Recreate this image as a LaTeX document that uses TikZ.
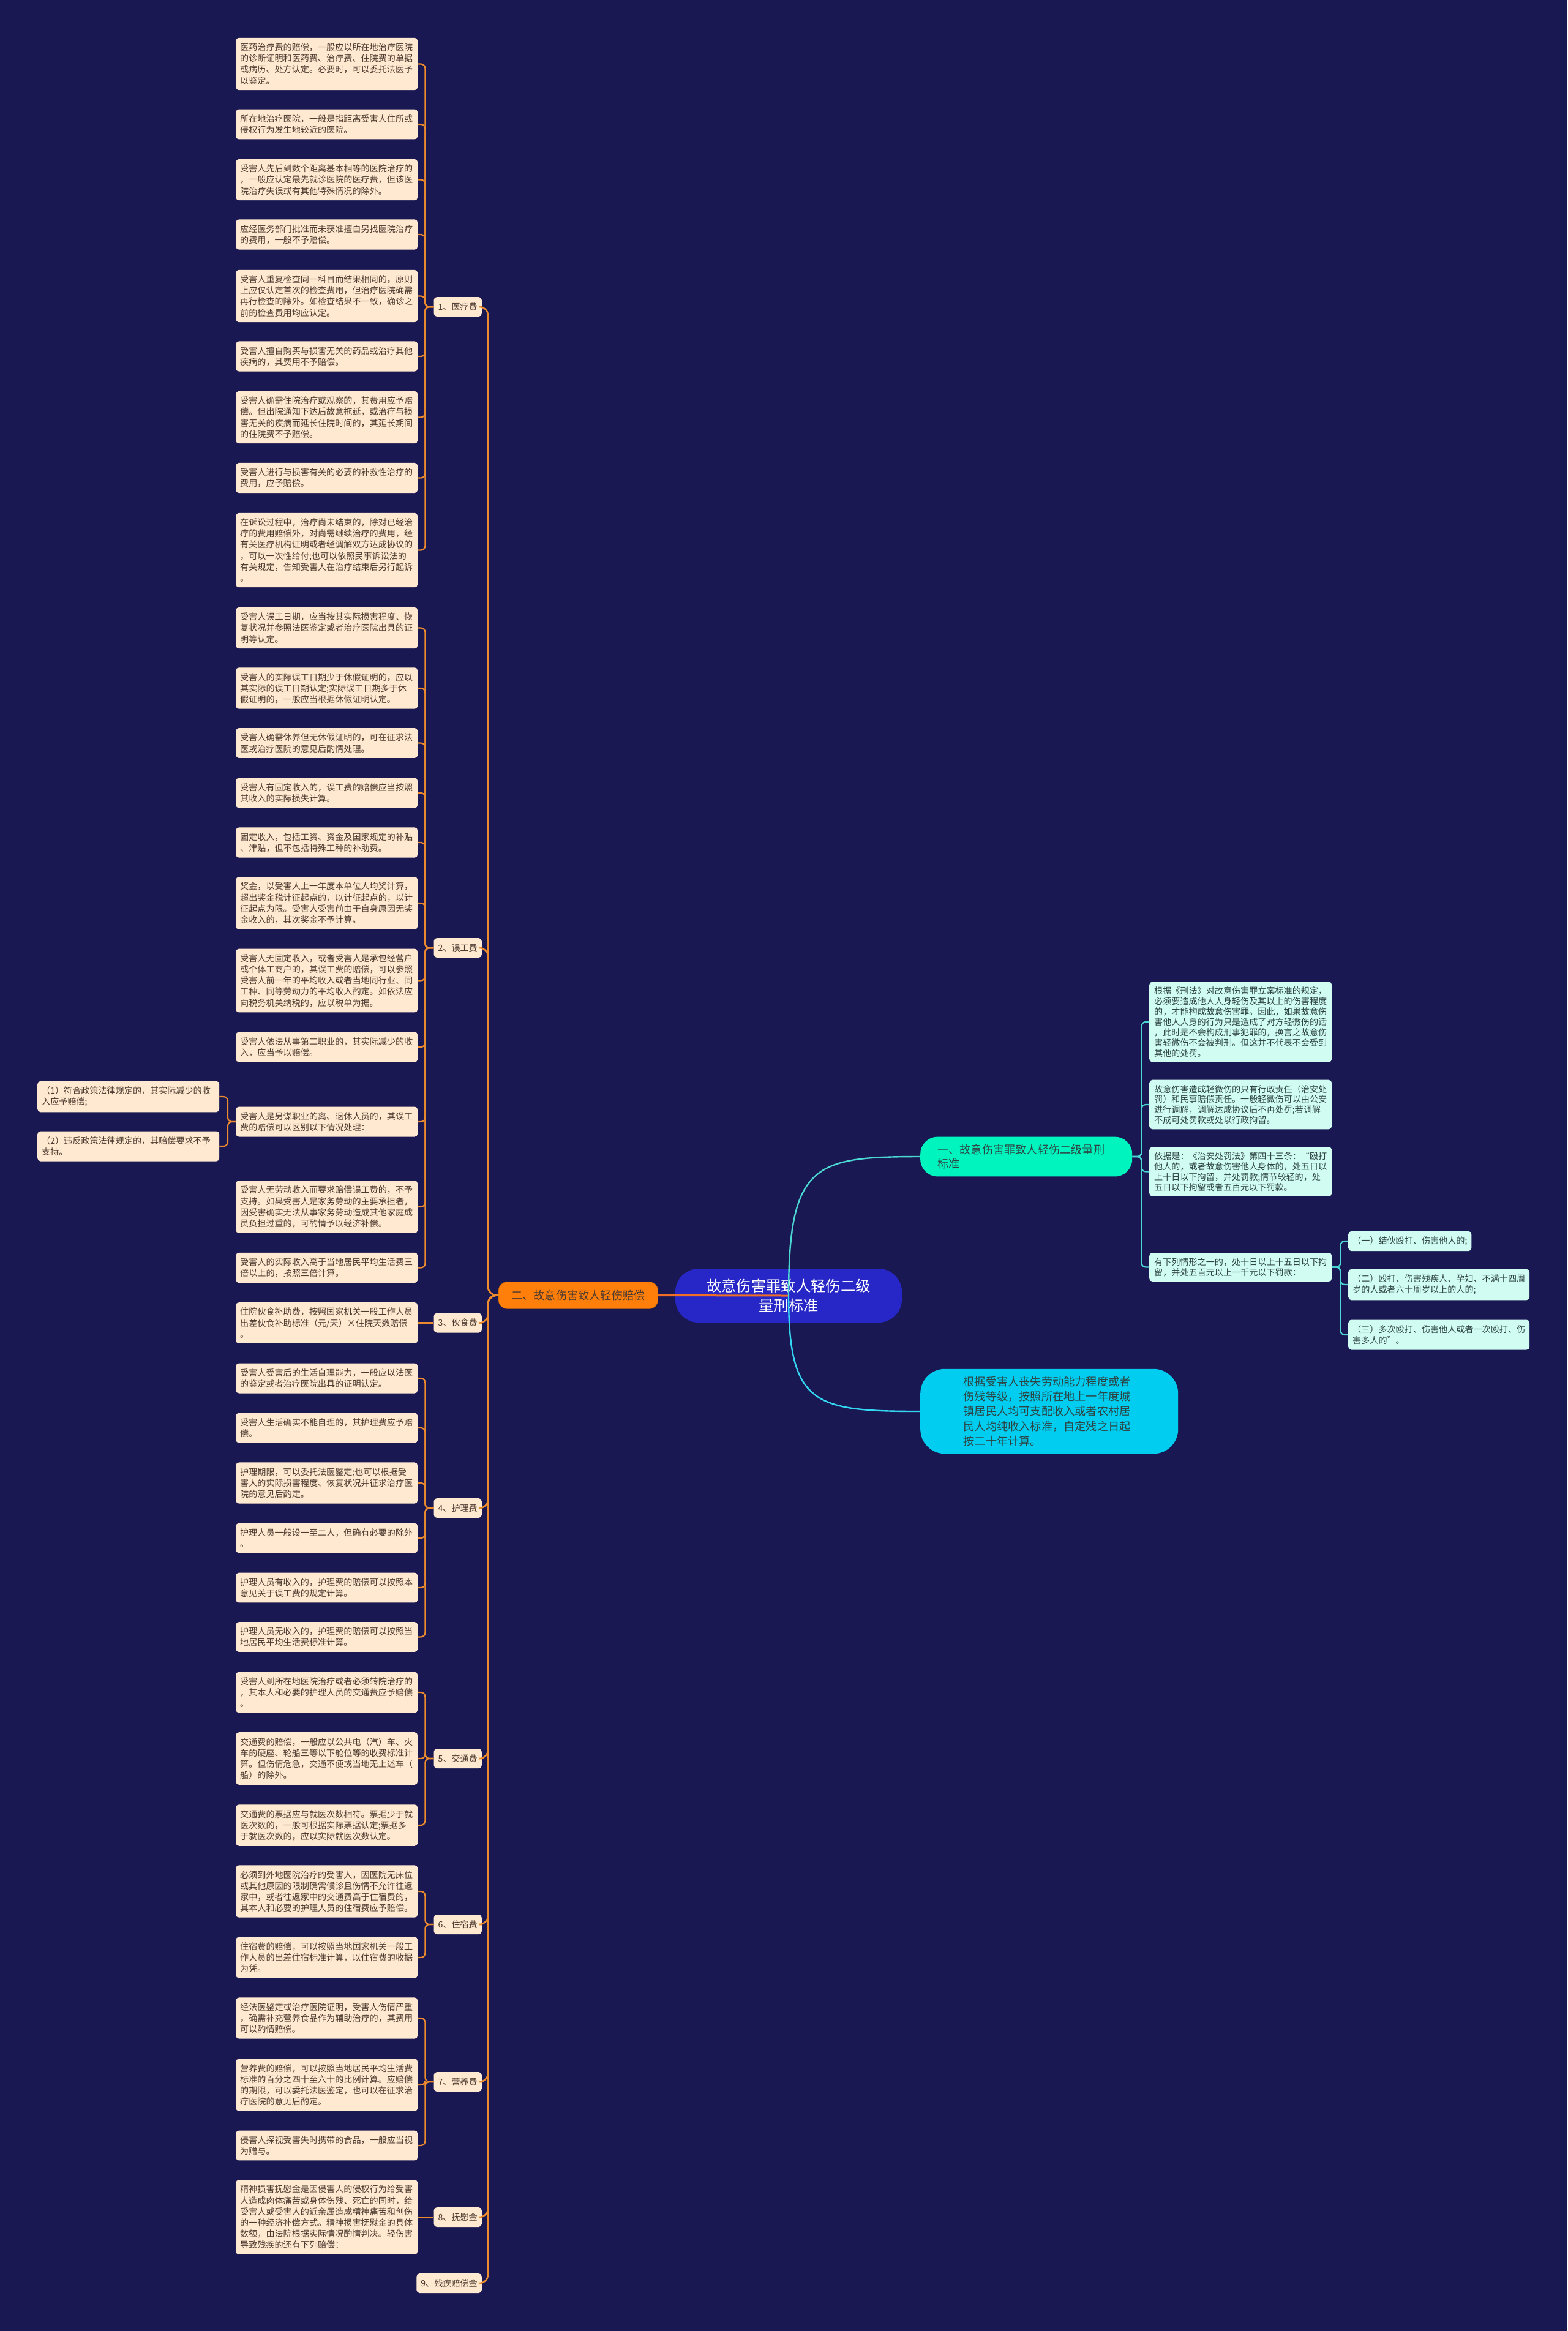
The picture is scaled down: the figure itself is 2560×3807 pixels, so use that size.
\documentclass[tikz,border=0pt]{standalone}
\usepackage{fontspec}
\newfontfamily\cjk{Noto Sans CJK SC}
\usetikzlibrary{calc}
\definecolor{MapBg}{HTML}{1A1852}
\definecolor{LeafFill}{HTML}{FFE9D0}
\definecolor{LeafInk}{HTML}{4D3B30}
\definecolor{LeafLine}{HTML}{EC8A2E}
\definecolor{MintFill}{HTML}{D0FCF2}
\definecolor{MintInk}{HTML}{2E4444}
\definecolor{MintLine}{HTML}{4CD8D2}
\definecolor{HeadGreen}{HTML}{00F5BE}
\definecolor{HeadCyan}{HTML}{00CDEF}
\definecolor{HeadOrange}{HTML}{FF7F0A}
\definecolor{RootBlue}{HTML}{2727C8}

\begin{document}
\begin{tikzpicture}[x=1pt,y=-1pt,
    leaf/.style={fill=LeafFill,rounded corners=5pt,text=LeafInk,anchor=west,
      font={\cjk\fontsize{14.1pt}{18.2pt}\selectfont},text width=283pt,align=left,
      inner xsep=7pt,inner ysep=8.8pt},
    cat/.style={fill=LeafFill,rounded corners=5pt,text=LeafInk,anchor=east,
      font={\cjk\fontsize{14.1pt}{18.2pt}\selectfont},inner xsep=7pt,minimum height=32pt},
    rleaf/.style={fill=MintFill,rounded corners=5pt,text=MintInk,anchor=west,
      font={\cjk\fontsize{14.1pt}{16.9pt}\selectfont},text width=282pt,align=left,
      inner xsep=8pt,inner ysep=8.3pt},
    sleaf/.style={fill=MintFill,rounded corners=5pt,text=MintInk,anchor=west,
      font={\cjk\fontsize{14.1pt}{18.2pt}\selectfont},align=left,
      inner xsep=7pt,inner ysep=8.8pt},
    leafedge/.style={draw=LeafLine,line width=2.2pt,rounded corners=7pt},
    trunk/.style={draw=LeafLine,line width=2.6pt,rounded corners=14pt},
    mintedge/.style={draw=MintLine,line width=2.2pt,rounded corners=7pt}
  ]
  \path[use as bounding box,fill=MapBg] (0,0) rectangle (2560,3807);

  % centre and first level
  \node[fill=RootBlue,rounded corners=38pt,text=white,align=center,
    font={\cjk\fontsize{24.3pt}{32.5pt}\selectfont},minimum width=370pt,minimum height=88pt]
    (root) at (1288,2116) {故意伤害罪致人轻伤二级\\量刑标准};
  \node[fill=HeadOrange,draw=HeadOrange!65!black,rounded corners=14pt,text=LeafInk,anchor=west,
    font={\cjk\fontsize{18.2pt}{23pt}\selectfont},inner xsep=21pt,minimum height=44pt]
    (comp) at (814,2115.5) {二、故意伤害致人轻伤赔偿};
  \node[fill=HeadGreen,rounded corners=28pt,text=MintInk,anchor=west,align=left,
    font={\cjk\fontsize{18.2pt}{23pt}\selectfont},text width=290pt,inner xsep=28pt,inner ysep=12.4pt]
    (std) at (1503,1889) {一、故意伤害罪致人轻伤二级量刑\\标准};
  \node[fill=HeadCyan,rounded corners=40pt,text=MintInk,anchor=west,align=left,
    font={\cjk\fontsize{18.2pt}{24.4pt}\selectfont},text width=280pt,inner xsep=70.5pt,inner ysep=12pt]
    (disab) at (1503,2305) {根据受害人丧失劳动能力程度或者\\伤残等级，按照所在地上一年度城\\镇居民人均可支配收入或者农村居\\民人均纯收入标准，自定残之日起\\按二十年计算。};

  % right branch
  \node[rleaf] (r1) at (1877,1669) {根据《刑法》对故意伤害罪立案标准的规定，\\必须要造成他人人身轻伤及其以上的伤害程度\\的，才能构成故意伤害罪。因此，如果故意伤\\害他人人身的行为只是造成了对方轻微伤的话\\，此时是不会构成刑事犯罪的，换言之故意伤\\害轻微伤不会被判刑。但这并不代表不会受到\\其他的处罚。};
  \node[rleaf] (r2) at (1877,1804) {故意伤害造成轻微伤的只有行政责任（治安处\\罚）和民事赔偿责任。一般轻微伤可以由公安\\进行调解，调解达成协议后不再处罚;若调解\\不成可处罚款或处以行政拘留。};
  \node[rleaf] (r3) at (1877,1913.5) {依据是：《治安处罚法》第四十三条：“殴打\\他人的，或者故意伤害他人身体的，处五日以\\上十日以下拘留，并处罚款;情节较轻的，处\\五日以下拘留或者五百元以下罚款。};
  \node[rleaf] (r4) at (1877,2069.5) {有下列情形之一的，处十日以上十五日以下拘\\留，并处五百元以上一千元以下罚款：};
  \node[sleaf] (s1) at (2202,2027) {（一）结伙殴打、伤害他人的;};
  \node[sleaf,text width=282pt] (s2) at (2202,2098) {（二）殴打、伤害残疾人、孕妇、不满十四周\\岁的人或者六十周岁以上的人的;};
  \node[sleaf,text width=282pt] (s3) at (2202,2180) {（三）多次殴打、伤害他人或者一次殴打、伤\\害多人的”。};

  % 1 medical
  \node[cat] (c1) at (787,501) {1、医疗费};
  \node[leaf] (a1) at (385,104.5) {医药治疗费的赔偿，一般应以所在地治疗医院\\的诊断证明和医药费、治疗费、住院费的单据\\或病历、处方认定。必要时，可以委托法医予\\以鉴定。};
  \node[leaf] (a2) at (385,203) {所在地治疗医院，一般是指距离受害人住所或\\侵权行为发生地较近的医院。};
  \node[leaf] (a3) at (385,293.5) {受害人先后到数个距离基本相等的医院治疗的\\，一般应认定最先就诊医院的医疗费，但该医\\院治疗失误或有其他特殊情况的除外。};
  \node[leaf] (a4) at (385,383) {应经医务部门批准而未获准擅自另找医院治疗\\的费用，一般不予赔偿。};
  \node[leaf] (a5) at (385,483.5) {受害人重复检查同一科目而结果相同的，原则\\上应仅认定首次的检查费用，但治疗医院确需\\再行检查的除外。如检查结果不一致，确诊之\\前的检查费用均应认定。};
  \node[leaf] (a6) at (385,582) {受害人擅自购买与损害无关的药品或治疗其他\\疾病的，其费用不予赔偿。};
  \node[leaf] (a7) at (385,681.5) {受害人确需住院治疗或观察的，其费用应予赔\\偿。但出院通知下达后故意拖延，或治疗与损\\害无关的疾病而延长住院时间的，其延长期间\\的住院费不予赔偿。};
  \node[leaf] (a8) at (385,780.5) {受害人进行与损害有关的必要的补救性治疗的\\费用，应予赔偿。};
  \node[leaf] (a9) at (385,898.5) {在诉讼过程中，治疗尚未结束的，除对已经治\\疗的费用赔偿外，对尚需继续治疗的费用，经\\有关医疗机构证明或者经调解双方达成协议的\\，可以一次性给付;也可以依照民事诉讼法的\\有关规定，告知受害人在治疗结束后另行起诉\\。};

  % 2 lost work
  \node[cat] (c2) at (787,1548) {2、误工费};
  \node[leaf] (b1) at (385,1025.5) {受害人误工日期，应当按其实际损害程度、恢\\复状况并参照法医鉴定或者治疗医院出具的证\\明等认定。};
  \node[leaf] (b2) at (385,1124) {受害人的实际误工日期少于休假证明的，应以\\其实际的误工日期认定;实际误工日期多于休\\假证明的，一般应当根据休假证明认定。};
  \node[leaf] (b3) at (385,1213.5) {受害人确需休养但无休假证明的，可在征求法\\医或治疗医院的意见后酌情处理。};
  \node[leaf] (b4) at (385,1295) {受害人有固定收入的，误工费的赔偿应当按照\\其收入的实际损失计算。};
  \node[leaf] (b5) at (385,1376) {固定收入，包括工资、资金及国家规定的补贴\\、津贴，但不包括特殊工种的补助费。};
  \node[leaf] (b6) at (385,1475) {奖金，以受害人上一年度本单位人均奖计算，\\超出奖金税计征起点的，以计征起点的，以计\\征起点为限。受害人受害前由于自身原因无奖\\金收入的，其次奖金不予计算。};
  \node[leaf] (b7) at (385,1601.5) {受害人无固定收入，或者受害人是承包经营户\\或个体工商户的，其误工费的赔偿，可以参照\\受害人前一年的平均收入或者当地同行业、同\\工种、同等劳动力的平均收入酌定。如依法应\\向税务机关纳税的，应以税单为据。};
  \node[leaf] (b8) at (385,1710) {受害人依法从事第二职业的，其实际减少的收\\入，应当予以赔偿。};
  \node[leaf] (b9) at (385,1832) {受害人是另谋职业的离、退休人员的，其误工\\费的赔偿可以区别以下情况处理：};
  \node[leaf] (b10) at (385,1971) {受害人无劳动收入而要求赔偿误工费的，不予\\支持。如果受害人是家务劳动的主要承担者，\\因受害确实无法从事家务劳动造成其他家庭成\\员负担过重的，可酌情予以经济补偿。};
  \node[leaf] (b11) at (385,2070.5) {受害人的实际收入高于当地居民平均生活费三\\倍以上的，按照三倍计算。};
  \node[leaf] (q1) at (61,1791) {（1）符合政策法律规定的，其实际减少的收\\入应予赔偿;};
  \node[leaf] (q2) at (61,1872) {（2）违反政策法律规定的，其赔偿要求不予\\支持。};

  % 3 meals
  \node[cat] (c3) at (787,2160.5) {3、伙食费};
  \node[leaf] (d1) at (385,2160.5) {住院伙食补助费，按照国家机关一般工作人员\\出差伙食补助标准（元/天）×住院天数赔偿\\。};

  % 4 nursing
  \node[cat] (c4) at (787,2463) {4、护理费};
  \node[leaf] (e1) at (385,2251) {受害人受害后的生活自理能力，一般应以法医\\的鉴定或者治疗医院出具的证明认定。};
  \node[leaf] (e2) at (385,2332) {受害人生活确实不能自理的，其护理费应予赔\\偿。};
  \node[leaf] (e3) at (385,2422) {护理期限，可以委托法医鉴定;也可以根据受\\害人的实际损害程度、恢复状况并征求治疗医\\院的意见后酌定。};
  \node[leaf] (e4) at (385,2512) {护理人员一般设一至二人，但确有必要的除外\\。};
  \node[leaf] (e5) at (385,2593) {护理人员有收入的，护理费的赔偿可以按照本\\意见关于误工费的规定计算。};
  \node[leaf] (e6) at (385,2673.5) {护理人员无收入的，护理费的赔偿可以按照当\\地居民平均生活费标准计算。};

  % 5 transport
  \node[cat] (c5) at (787,2872) {5、交通费};
  \node[leaf] (f1) at (385,2764) {受害人到所在地医院治疗或者必须转院治疗的\\，其本人和必要的护理人员的交通费应予赔偿\\。};
  \node[leaf] (f2) at (385,2872) {交通费的赔偿，一般应以公共电（汽）车、火\\车的硬座、轮船三等以下舱位等的收费标准计\\算。但伤情危急，交通不便或当地无上述车（\\船）的除外。};
  \node[leaf] (f3) at (385,2981) {交通费的票据应与就医次数相符。票据少于就\\医次数的，一般可根据实际票据认定;票据多\\于就医次数的，应以实际就医次数认定。};

  % 6 lodging
  \node[cat] (c6) at (787,3143) {6、住宿费};
  \node[leaf] (g1) at (385,3089) {必须到外地医院治疗的受害人，因医院无床位\\或其他原因的限制确需候诊且伤情不允许往返\\家中，或者往返家中的交通费高于住宿费的，\\其本人和必要的护理人员的住宿费应予赔偿。};
  \node[leaf] (g2) at (385,3197) {住宿费的赔偿，可以按照当地国家机关一般工\\作人员的出差住宿标准计算，以住宿费的收据\\为凭。};

  % 7 nutrition
  \node[cat] (c7) at (787,3400) {7、营养费};
  \node[leaf] (h1) at (385,3296) {经法医鉴定或治疗医院证明，受害人伤情严重\\，确需补充营养食品作为辅助治疗的，其费用\\可以酌情赔偿。};
  \node[leaf] (h2) at (385,3405) {营养费的赔偿，可以按照当地居民平均生活费\\标准的百分之四十至六十的比例计算。应赔偿\\的期限，可以委托法医鉴定，也可以在征求治\\疗医院的意见后酌定。};
  \node[leaf] (h3) at (385,3504) {侵害人探视受害失时携带的食品，一般应当视\\为赠与。};

  % 8 and 9
  \node[cat] (c8) at (787,3621) {8、抚慰金};
  \node[leaf] (i1) at (385,3621) {精神损害抚慰金是因侵害人的侵权行为给受害\\人造成肉体痛苦或身体伤残、死亡的同时，给\\受害人或受害人的近亲属造成精神痛苦和创伤\\的一种经济补偿方式。精神损害抚慰金的具体\\数额，由法院根据实际情况酌情判决。轻伤害\\导致残疾的还有下列赔偿：};
  \node[cat] (c9) at (787,3729) {9、残疾赔偿金};

  % connectors
  \draw[draw=LeafLine!80!red,line width=3pt] (root.center) -- (comp.east);
  \draw[draw=MintLine,line width=2.4pt] (root.center) .. controls (1288,1900) and (1330,1889) .. (std.west);
  \draw[draw=HeadCyan!80!white,line width=2.4pt] (root.center) .. controls (1288,2295) and (1330,2305) .. (disab.west);
  \foreach \c in {c1,c2,c3,c4,c5,c6,c7,c8,c9}
    \draw[trunk] (comp.west) -- ++(-17,0) |- (\c.east);
  \foreach \l in {a1,a2,a3,a4,a5,a6,a7,a8,a9}
    \draw[leafedge] (c1.west) -- ++(-14,0) |- (\l.east);
  \foreach \l in {b1,b2,b3,b4,b5,b6,b7,b8,b9,b10,b11}
    \draw[leafedge] (c2.west) -- ++(-14,0) |- (\l.east);
  \draw[leafedge] (c3.west) -- (d1.east);
  \foreach \l in {e1,e2,e3,e4,e5,e6}
    \draw[leafedge] (c4.west) -- ++(-14,0) |- (\l.east);
  \foreach \l in {f1,f2,f3}
    \draw[leafedge] (c5.west) -- ++(-14,0) |- (\l.east);
  \foreach \l in {g1,g2}
    \draw[leafedge] (c6.west) -- ++(-14,0) |- (\l.east);
  \foreach \l in {h1,h2,h3}
    \draw[leafedge] (c7.west) -- ++(-14,0) |- (\l.east);
  \draw[leafedge] (c8.west) -- (i1.east);
  \foreach \l in {q1,q2}
    \draw[leafedge] (b9.west) -- ++(-13,0) |- (\l.east);
  \foreach \r in {r1,r2,r3,r4}
    \draw[mintedge] (std.east) -- ++(15,0) |- (\r.west);
  \foreach \s in {s1,s2,s3}
    \draw[mintedge] (r4.east) -- ++(14,0) |- (\s.west);
\end{tikzpicture}
\end{document}
